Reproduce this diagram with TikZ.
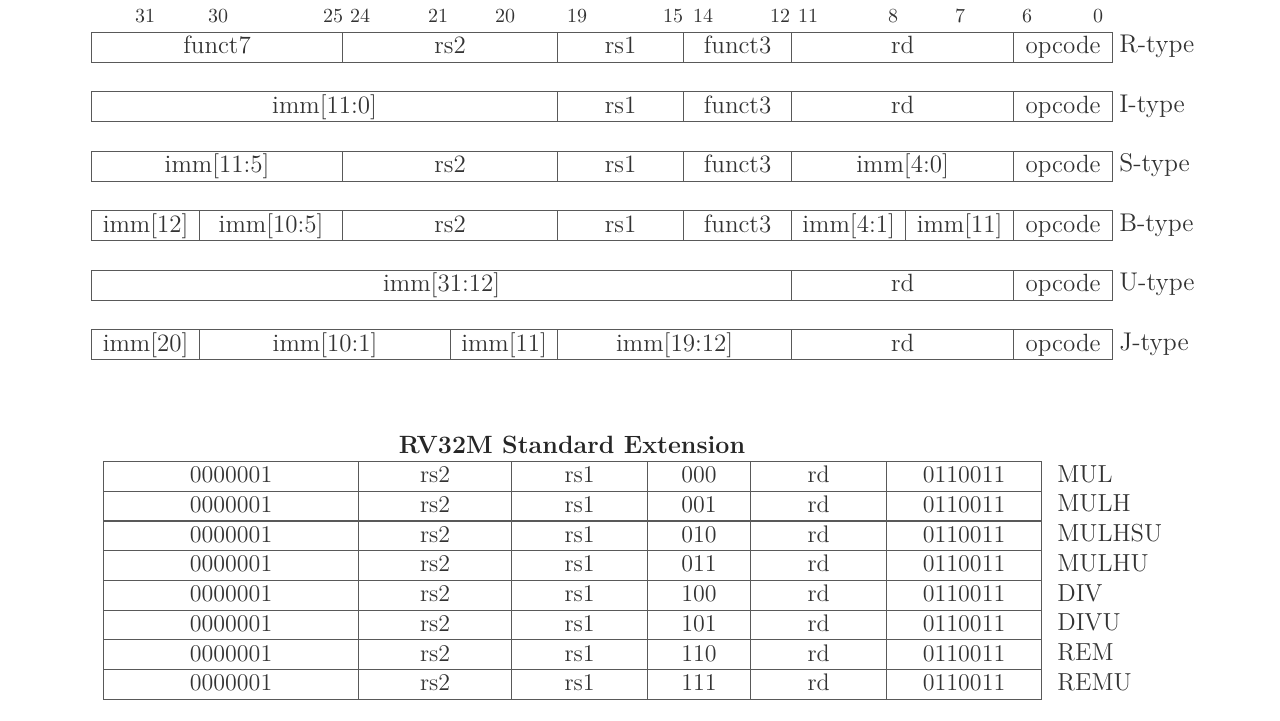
\documentclass[tikz,border=0pt]{standalone}
\tikzset{
  fieldbox/.style={draw=black!65, line width=0.6pt, text=black!80, inner sep=0pt, anchor=north west, text height=0.76em, text depth=0.12em, font=\fontsize{12.5}{14}\selectfont},
  cellbox/.style={fieldbox, font=\fontsize{12}{14}\selectfont},
  bitnum/.style={text=black!80, font=\fontsize{10}{12}\selectfont, inner sep=0pt},
  typelabel/.style={anchor=west, text=black!80, inner sep=0pt, text height=0.76em, text depth=0.12em, font=\fontsize{12.8}{14}\selectfont},
  titlelabel/.style={text=black!85, inner sep=0pt, font=\fontsize{12.5}{14}\selectfont\bfseries},
}
% name, x1, x2, ytop, height, text
\newcommand\fld[6]{\node[fieldbox, minimum width={(#3-#2)*0.5pt}, minimum height={#5*0.5pt}] (#1) at (#2,#4) {#6};}
\newcommand\cel[6]{\node[cellbox, minimum width={(#3-#2)*0.5pt}, minimum height={#5*0.5pt}] (#1) at (#2,#4) {#6};}
\begin{document}
\begin{tikzpicture}[x=0.5pt, y=-0.5pt]
\useasboundingbox (0,0) rectangle (1280,720);
% bit numbers
\node[bitnum] (b31) at (145,16) {31};
\node[bitnum] (b30) at (218,16) {30};
\node[bitnum] (b25) at (333,16) {25};
\node[bitnum] (b24) at (360,16) {24};
\node[bitnum] (b21) at (438,16) {21};
\node[bitnum] (b20) at (505,16) {20};
\node[bitnum] (b19) at (577,16) {19};
\node[bitnum] (b15) at (673,16) {15};
\node[bitnum] (b14) at (703,16) {14};
\node[bitnum] (b12) at (780,16) {12};
\node[bitnum] (b11) at (808,16) {11};
\node[bitnum] (b8) at (893,16) {8};
\node[bitnum] (b7) at (960,16) {7};
\node[bitnum] (b6) at (1027,16) {6};
\node[bitnum] (b0) at (1098,16) {0};
% R-type
\fld{rA}{91}{342}{31.5}{30}{funct7}
\fld{rB}{342}{557}{31.5}{30}{rs2}
\fld{rC}{557}{683}{31.5}{30}{rs1}
\fld{rD}{683}{791}{31.5}{30}{funct3}
\fld{rE}{791}{1013}{31.5}{30}{rd}
\fld{rF}{1013}{1112}{31.5}{30}{opcode}
\node[typelabel] (rT) at (1119,46.5) {R-type};
% I-type
\fld{iA}{91}{557}{91}{30}{imm[11:0]}
\fld{iC}{557}{683}{91}{30}{rs1}
\fld{iD}{683}{791}{91}{30}{funct3}
\fld{iE}{791}{1013}{91}{30}{rd}
\fld{iF}{1013}{1112}{91}{30}{opcode}
\node[typelabel] (iT) at (1119,106) {I-type};
% S-type
\fld{sA}{91}{342}{150.5}{30}{imm[11:5]}
\fld{sB}{342}{557}{150.5}{30}{rs2}
\fld{sC}{557}{683}{150.5}{30}{rs1}
\fld{sD}{683}{791}{150.5}{30}{funct3}
\fld{sE}{791}{1013}{150.5}{30}{imm[4:0]}
\fld{sF}{1013}{1112}{150.5}{30}{opcode}
\node[typelabel] (sT) at (1119,165.5) {S-type};
% B-type
\fld{bA}{91}{199}{210}{30}{imm[12]}
\fld{bA2}{199}{342}{210}{30}{imm[10:5]}
\fld{bB}{342}{557}{210}{30}{rs2}
\fld{bC}{557}{683}{210}{30}{rs1}
\fld{bD}{683}{791}{210}{30}{funct3}
\fld{bE}{791}{905}{210}{30}{imm[4:1]}
\fld{bE2}{905}{1013}{210}{30}{imm[11]}
\fld{bF}{1013}{1112}{210}{30}{opcode}
\node[typelabel] (bT) at (1119,225) {B-type};
% U-type
\fld{uA}{91}{791}{269.5}{30}{imm[31:12]}
\fld{uE}{791}{1013}{269.5}{30}{rd}
\fld{uF}{1013}{1112}{269.5}{30}{opcode}
\node[typelabel] (uT) at (1119,284.5) {U-type};
% J-type
\fld{jA}{91}{199}{329}{30}{imm[20]}
\fld{jA2}{199}{450}{329}{30}{imm[10:1]}
\fld{jB}{450}{557}{329}{30}{imm[11]}
\fld{jC}{557}{791}{329}{30}{imm[19:12]}
\fld{jE}{791}{1013}{329}{30}{rd}
\fld{jF}{1013}{1112}{329}{30}{opcode}
\node[typelabel] (jT) at (1119,344) {J-type};
% RV32M table
\node[titlelabel] (title) at (572,445) {RV32M Standard Extension};
\foreach \f/\m [count=\i from 0] in {000/MUL,001/MULH,010/MULHSU,011/MULHU,100/DIV,101/DIVU,110/REM,111/REMU}{
  \pgfmathsetmacro\yt{461+29.7*\i}
  \cel{m\i a}{103}{358}{\yt}{29.7}{0000001}
  \cel{m\i b}{358}{511}{\yt}{29.7}{rs2}
  \cel{m\i c}{511}{647}{\yt}{29.7}{rs1}
  \cel{m\i d}{647}{750}{\yt}{29.7}{\f}
  \cel{m\i e}{750}{886}{\yt}{29.7}{rd}
  \cel{m\i f}{886}{1041}{\yt}{29.7}{0110011}
  \node[typelabel, font=\fontsize{12.3}{14}\selectfont] (m\i n) at (1057,\yt+14.85) {\m};
}
\end{tikzpicture}
\end{document}
